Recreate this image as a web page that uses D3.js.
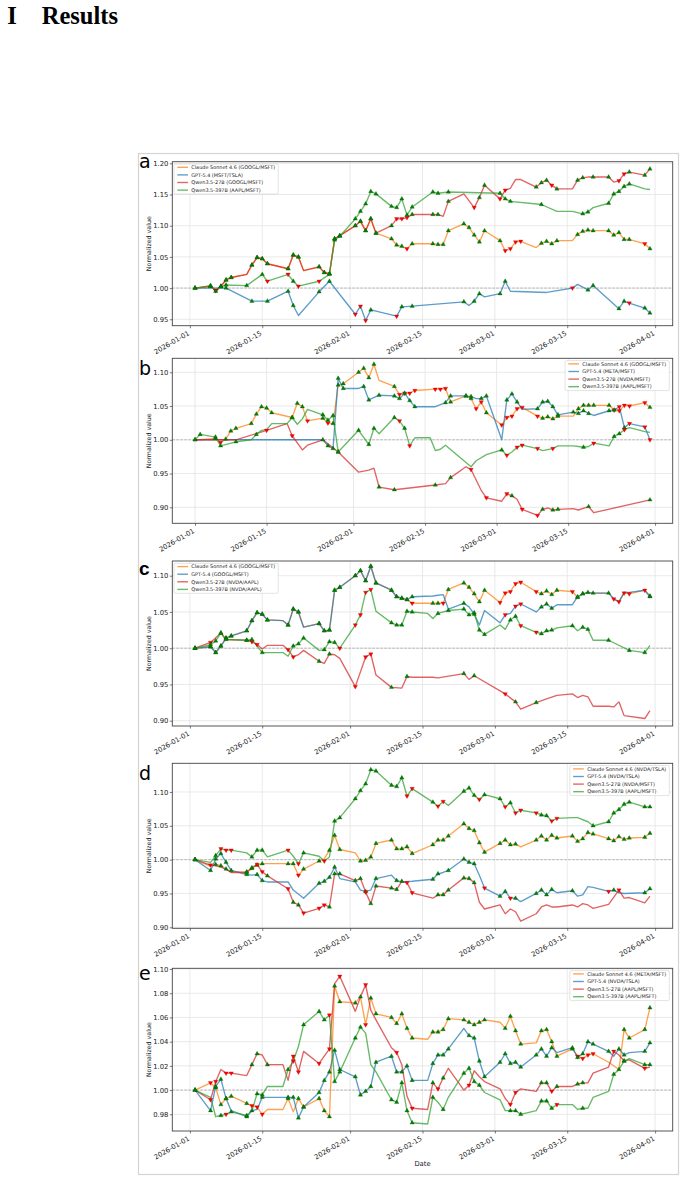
<!DOCTYPE html>
<html><head><meta charset="utf-8">
<script src="https://cdnjs.cloudflare.com/ajax/libs/d3/7.8.5/d3.min.js"></script>
<style>body{margin:0;background:#fff}svg{display:block}</style>
</head><body>
<svg id="c" width="686" height="1181"></svg>
<script>
// ---------- tick labels ----------
const xTickLabels = ["2026-01-01","2026-01-15","2026-02-01","2026-02-15","2026-03-01","2026-03-15","2026-04-01"];
const aTicks = [0.95,1.00,1.05,1.10,1.15,1.20];
const bTicks = [0.90,0.95,1.00,1.05,1.10];
const cTicks = [0.90,0.95,1.00,1.05,1.10];
const dTicks = [0.90,0.95,1.00,1.05,1.10];
const eTicks = [0.98,1.00,1.02,1.04,1.06,1.08,1.10];

// ---------- legend labels ----------
const aLegend = ["Claude Sonnet 4.6 (GOOGL/MSFT)","GPT-5.4 (MSFT/TSLA)","Qwen3.5-27B (GOOGL/MSFT)","Qwen3.5-397B (AAPL/MSFT)"];
const bLegend = ["Claude Sonnet 4.6 (GOOGL/MSFT)","GPT-5.4 (META/MSFT)","Qwen3.5-27B (NVDA/MSFT)","Qwen3.5-397B (AAPL/MSFT)"];
const cLegend = ["Claude Sonnet 4.6 (GOOGL/MSFT)","GPT-5.4 (GOOGL/MSFT)","Qwen3.5-27B (NVDA/AAPL)","Qwen3.5-397B (NVDA/AAPL)"];
const dLegend = ["Claude Sonnet 4.6 (NVDA/TSLA)","GPT-5.4 (NVDA/TSLA)","Qwen3.5-27B (NVDA/MSFT)","Qwen3.5-397B (AAPL/MSFT)"];
const eLegend = ["Claude Sonnet 4.6 (META/MSFT)","GPT-5.4 (NVDA/TSLA)","Qwen3.5-27B (AAPL/MSFT)","Qwen3.5-397B (AAPL/MSFT)"];

// ---------- series: [date (2026-MM-DD), normalized value, signal b=buy s=sell] ----------
const aClaude = [["01-02",1.000,"b"],["01-05",1.003,"b"],["01-06",0.996,"s"],["01-07",1.003,"b"],["01-08",1.013,"b"],["01-09",1.017,"b"],["01-12",1.022,""],["01-13",1.037,"b"],["01-14",1.049,"b"],["01-15",1.047,"b"],["01-16",1.039,"b"],["01-20",1.031,"b"],["01-21",1.053,"b"],["01-22",1.050,"b"],["01-23",1.028,""],["01-26",1.034,"b"],["01-27",1.025,"b"],["01-28",1.023,"b"],["01-29",1.079,"b"],["01-30",1.084,"b"],["02-02",1.100,"b"],["02-03",1.107,"b"],["02-04",1.092,"b"],["02-05",1.111,"b"],["02-06",1.088,"b"],["02-09",1.079,"b"],["02-10",1.069,"b"],["02-11",1.067,"b"],["02-12",1.063,"s"],["02-13",1.071,"b"],["02-17",1.071,"b"],["02-18",1.070,"b"],["02-19",1.070,"b"],["02-20",1.092,"b"],["02-23",1.103,"b"],["02-24",1.097,"b"],["02-25",1.085,"b"],["02-26",1.074,"b"],["02-27",1.092,"b"],["03-02",1.076,"b"],["03-03",1.060,"s"],["03-04",1.063,"s"],["03-05",1.074,"s"],["03-06",1.075,"s"],["03-09",1.065,""],["03-10",1.072,"b"],["03-11",1.075,"b"],["03-12",1.071,"b"],["03-13",1.076,"b"],["03-16",1.076,""],["03-17",1.086,"b"],["03-18",1.091,"b"],["03-19",1.093,"b"],["03-20",1.092,"b"],["03-23",1.092,"b"],["03-24",1.085,"b"],["03-25",1.089,"b"],["03-26",1.078,"b"],["03-27",1.078,"b"],["03-30",1.071,"s"],["03-31",1.063,"b"]];
const aGPT = [["01-02",1.000,""],["01-08",1.000,"b"],["01-13",0.979,"b"],["01-16",0.979,"b"],["01-20",0.995,"b"],["01-21",0.972,"b"],["01-22",0.956,""],["01-26",0.994,"b"],["01-28",1.011,"b"],["02-02",0.958,"s"],["02-03",0.971,"s"],["02-04",0.948,"s"],["02-05",0.965,"b"],["02-10",0.955,"s"],["02-11",0.970,"b"],["02-13",0.971,"b"],["02-23",0.978,"b"],["02-24",0.972,""],["02-25",0.979,"b"],["02-26",0.991,"b"],["02-27",0.986,""],["03-02",0.991,"b"],["03-03",1.011,"b"],["03-04",0.995,""],["03-11",0.993,""],["03-16",1.000,"s"],["03-17",1.006,""],["03-19",0.997,"b"],["03-20",1.004,"b"],["03-25",0.967,"b"],["03-26",0.979,"b"],["03-27",0.976,"s"],["03-30",0.968,"b"],["03-31",0.960,"b"]];
const aQwen27 = [["01-02",1.000,"b"],["01-05",1.003,"b"],["01-06",0.996,"s"],["01-07",1.003,"b"],["01-08",1.013,"b"],["01-09",1.017,"b"],["01-12",1.022,""],["01-13",1.037,"b"],["01-14",1.049,"b"],["01-15",1.047,"b"],["01-16",1.039,"b"],["01-20",1.031,"b"],["01-21",1.053,"b"],["01-22",1.050,"b"],["01-23",1.028,""],["01-26",1.034,"b"],["01-27",1.025,"b"],["01-28",1.023,"b"],["01-29",1.079,"b"],["01-30",1.084,"b"],["02-02",1.100,"b"],["02-03",1.107,"b"],["02-04",1.092,"b"],["02-05",1.111,"b"],["02-06",1.088,"b"],["02-09",1.100,"b"],["02-10",1.111,"s"],["02-11",1.111,"s"],["02-12",1.113,"s"],["02-13",1.118,"b"],["02-17",1.118,"b"],["02-18",1.118,"b"],["02-19",1.115,""],["02-20",1.139,"b"],["02-23",1.151,""],["02-25",1.129,"s"],["02-26",1.145,"b"],["02-27",1.165,"b"],["03-02",1.143,"s"],["03-03",1.157,"s"],["03-04",1.160,""],["03-05",1.174,""],["03-06",1.174,""],["03-09",1.162,"b"],["03-10",1.169,"b"],["03-11",1.173,"b"],["03-12",1.165,"s"],["03-13",1.159,"b"],["03-16",1.159,""],["03-17",1.173,"b"],["03-18",1.177,"b"],["03-19",1.178,""],["03-20",1.178,"b"],["03-23",1.178,"b"],["03-24",1.170,""],["03-25",1.172,"s"],["03-26",1.183,"s"],["03-27",1.186,"b"],["03-30",1.181,"b"],["03-31",1.191,"b"]];
const aQwen397 = [["01-02",1.000,"b"],["01-05",1.004,"b"],["01-06",0.995,"b"],["01-07",1.002,"b"],["01-08",1.005,"b"],["01-12",1.004,"b"],["01-15",1.022,"b"],["01-16",1.011,"s"],["01-20",1.022,"s"],["01-21",1.011,"b"],["01-22",1.003,"s"],["01-26",1.011,"s"],["01-28",1.022,"b"],["01-29",1.077,"b"],["01-30",1.083,"b"],["02-02",1.111,"b"],["02-03",1.123,"b"],["02-04",1.135,"b"],["02-05",1.155,"b"],["02-06",1.151,"b"],["02-09",1.131,"b"],["02-10",1.129,"b"],["02-11",1.143,"b"],["02-12",1.117,"b"],["02-13",1.130,"b"],["02-17",1.154,"b"],["02-18",1.152,"b"],["02-20",1.154,"b"],["03-02",1.152,"b"],["03-03",1.143,"b"],["03-04",1.139,"b"],["03-10",1.134,"b"],["03-13",1.123,""],["03-16",1.123,""],["03-18",1.119,"b"],["03-19",1.122,"b"],["03-20",1.129,""],["03-23",1.136,"b"],["03-24",1.151,"b"],["03-25",1.155,"b"],["03-26",1.163,"b"],["03-27",1.167,"b"],["03-30",1.159,""],["03-31",1.158,""]];

const bClaude = [["01-01",1.000,"b"],["01-02",1.000,""],["01-05",1.002,"b"],["01-06",0.996,"s"],["01-07",1.001,"b"],["01-08",1.013,"b"],["01-09",1.017,"b"],["01-12",1.024,"b"],["01-13",1.038,"b"],["01-14",1.049,"b"],["01-15",1.047,"b"],["01-16",1.040,"b"],["01-20",1.033,"b"],["01-21",1.054,"b"],["01-22",1.049,"b"],["01-23",1.028,"s"],["01-26",1.032,"b"],["01-27",1.025,"s"],["01-28",1.024,"b"],["01-29",1.081,"b"],["01-30",1.083,"b"],["02-02",1.100,"b"],["02-03",1.106,"b"],["02-04",1.092,"b"],["02-05",1.112,"b"],["02-06",1.088,""],["02-09",1.079,"b"],["02-10",1.067,"s"],["02-11",1.069,"s"],["02-12",1.069,"s"],["02-13",1.073,"s"],["02-17",1.075,"s"],["02-18",1.075,"s"],["02-19",1.076,"s"],["02-20",1.056,"b"],["02-23",1.065,"b"],["02-24",1.061,"b"],["02-25",1.046,"s"],["02-26",1.056,"s"],["02-27",1.040,"b"],["03-02",1.022,"s"],["03-03",1.033,"s"],["03-04",1.035,"s"],["03-05",1.046,"s"],["03-06",1.048,"s"],["03-09",1.035,"s"],["03-10",1.032,"b"],["03-11",1.034,"b"],["03-12",1.031,"b"],["03-13",1.035,"b"],["03-16",1.035,""],["03-17",1.046,"b"],["03-18",1.051,"b"],["03-19",1.051,"b"],["03-20",1.051,"b"],["03-23",1.051,"b"],["03-24",1.044,"s"],["03-25",1.043,"s"],["03-26",1.051,"s"],["03-27",1.050,"s"],["03-30",1.055,"s"],["03-31",1.048,"b"]];
const bGPT = [["01-01",1.000,""],["01-26",1.000,"b"],["01-27",0.991,"b"],["01-28",0.987,"b"],["01-29",1.091,"b"],["01-30",1.076,"b"],["02-02",1.076,""],["02-03",1.079,"b"],["02-04",1.059,"b"],["02-06",1.066,"b"],["02-09",1.065,"b"],["02-10",1.061,"b"],["02-11",1.069,"b"],["02-12",1.058,"b"],["02-13",1.049,"b"],["02-17",1.049,""],["02-19",1.055,"b"],["02-20",1.065,"b"],["02-23",1.065,"b"],["02-24",1.064,"b"],["02-25",1.061,""],["02-26",1.061,"b"],["02-27",1.065,"b"],["03-02",1.000,""],["03-03",1.059,"b"],["03-04",1.068,"b"],["03-05",1.056,"b"],["03-06",1.045,""],["03-09",1.046,"b"],["03-10",1.056,"b"],["03-11",1.057,"b"],["03-12",1.049,"b"],["03-13",1.037,"b"],["03-16",1.041,"b"],["03-17",1.039,"b"],["03-18",1.043,"b"],["03-19",1.039,"b"],["03-20",1.036,""],["03-23",1.043,"b"],["03-24",1.044,"b"],["03-25",1.049,"s"],["03-26",1.018,"b"],["03-27",1.024,"s"],["03-30",1.019,"s"],["03-31",1.000,"s"]];
const bQwen27 = [["01-01",1.000,""],["01-09",1.000,""],["01-15",1.014,"s"],["01-19",1.024,""],["01-20",1.006,"s"],["01-22",0.985,""],["01-23",0.992,""],["01-26",1.000,""],["01-28",0.988,""],["01-29",0.982,"b"],["02-02",0.952,""],["02-04",0.955,""],["02-05",0.958,""],["02-06",0.930,"b"],["02-09",0.926,"b"],["02-17",0.933,"b"],["02-19",0.935,""],["02-20",0.944,"b"],["02-23",0.960,""],["02-24",0.956,"s"],["02-26",0.925,""],["02-27",0.914,"s"],["03-02",0.909,""],["03-03",0.920,"s"],["03-04",0.917,"b"],["03-05",0.912,""],["03-06",0.897,"s"],["03-09",0.888,"s"],["03-10",0.897,"b"],["03-11",0.899,""],["03-12",0.896,"b"],["03-13",0.897,"b"],["03-16",0.898,""],["03-17",0.896,""],["03-19",0.901,"b"],["03-20",0.892,""],["03-31",0.911,"b"]];
const bQwen397 = [["01-01",1.000,"b"],["01-02",1.008,"b"],["01-05",1.004,"b"],["01-06",0.991,"b"],["01-09",0.997,"b"],["01-12",1.000,""],["01-13",1.008,"b"],["01-14",1.014,""],["01-15",1.015,""],["01-16",1.024,""],["01-19",1.024,""],["01-20",1.033,"b"],["01-21",1.023,""],["01-22",1.031,""],["01-23",1.045,""],["01-26",1.037,"b"],["01-27",1.029,"b"],["01-28",1.036,"b"],["01-29",0.982,"b"],["02-02",1.014,"b"],["02-04",0.993,"b"],["02-05",1.017,"b"],["02-06",1.009,""],["02-09",1.033,"b"],["02-10",1.028,"s"],["02-11",1.017,"b"],["02-12",0.991,"s"],["02-13",1.003,""],["02-16",1.003,""],["02-17",0.984,""],["02-18",0.986,""],["02-19",0.992,""],["02-24",0.960,""],["02-25",0.969,""],["02-27",0.978,""],["03-02",0.985,"b"],["03-03",0.977,"s"],["03-04",0.982,""],["03-05",0.989,"s"],["03-06",0.992,"s"],["03-09",0.987,"s"],["03-10",0.984,""],["03-12",0.987,"s"],["03-13",0.991,""],["03-16",0.991,""],["03-17",0.990,""],["03-18",0.989,"b"],["03-19",0.990,""],["03-20",0.995,"s"],["03-23",0.991,""],["03-24",1.005,"b"],["03-25",1.009,"b"],["03-26",1.015,"s"],["03-27",1.018,""],["03-30",1.012,""],["03-31",1.011,""]];

const cClaude = [["01-02",1.000,"b"],["01-05",1.002,"b"],["01-06",0.994,"b"],["01-07",1.003,"b"],["01-08",1.014,"b"],["01-09",1.017,"b"],["01-12",1.024,"b"],["01-13",1.038,"b"],["01-14",1.049,"b"],["01-15",1.047,"b"],["01-16",1.039,"b"],["01-19",1.038,""],["01-20",1.032,"b"],["01-21",1.054,"b"],["01-22",1.050,"b"],["01-23",1.029,""],["01-26",1.034,"b"],["01-27",1.024,"b"],["01-28",1.025,"b"],["01-29",1.080,"b"],["01-30",1.084,"b"],["02-02",1.100,"b"],["02-03",1.107,"b"],["02-04",1.093,"b"],["02-05",1.113,"b"],["02-06",1.090,"b"],["02-09",1.080,"b"],["02-10",1.071,"b"],["02-11",1.069,"b"],["02-12",1.067,"b"],["02-13",1.062,"s"],["02-17",1.062,"b"],["02-18",1.062,"b"],["02-19",1.062,"s"],["02-20",1.081,"b"],["02-23",1.090,"b"],["02-24",1.084,"b"],["02-25",1.075,"b"],["02-26",1.064,"b"],["02-27",1.080,"b"],["03-02",1.063,"s"],["03-03",1.076,"s"],["03-04",1.078,"s"],["03-05",1.089,"s"],["03-06",1.091,"s"],["03-09",1.078,"s"],["03-10",1.075,"b"],["03-11",1.079,"b"],["03-12",1.074,"b"],["03-13",1.080,"b"],["03-16",1.078,"s"],["03-17",1.070,"b"],["03-18",1.075,"b"],["03-19",1.077,"b"],["03-20",1.076,"b"],["03-23",1.076,"b"],["03-24",1.068,"s"],["03-25",1.064,"s"],["03-26",1.076,"s"],["03-27",1.075,"s"],["03-30",1.080,"s"],["03-31",1.072,"b"]];
const cGPT = [["01-02",1.000,"b"],["01-05",1.002,"b"],["01-06",0.994,"b"],["01-07",1.003,"b"],["01-08",1.014,"b"],["01-09",1.017,"b"],["01-12",1.024,"b"],["01-13",1.038,"b"],["01-14",1.049,"b"],["01-15",1.047,"b"],["01-16",1.039,"b"],["01-19",1.038,""],["01-20",1.032,"b"],["01-21",1.054,"b"],["01-22",1.050,"b"],["01-23",1.029,""],["01-26",1.034,"b"],["01-27",1.024,"b"],["01-28",1.025,"b"],["01-29",1.080,"b"],["01-30",1.084,"b"],["02-02",1.100,"b"],["02-03",1.107,"b"],["02-04",1.093,"b"],["02-05",1.113,"b"],["02-06",1.090,"b"],["02-09",1.080,"b"],["02-10",1.071,"b"],["02-11",1.069,"b"],["02-12",1.067,"b"],["02-13",1.071,"b"],["02-17",1.072,""],["02-18",1.073,""],["02-19",1.074,""],["02-20",1.054,""],["02-23",1.062,"b"],["02-24",1.057,""],["02-25",1.047,"b"],["02-26",1.032,""],["02-27",1.052,""],["03-02",1.035,""],["03-03",1.046,"s"],["03-04",1.048,""],["03-05",1.058,"s"],["03-06",1.061,"s"],["03-09",1.050,""],["03-10",1.057,"b"],["03-11",1.061,"b"],["03-12",1.055,"b"],["03-13",1.060,""],["03-16",1.060,""],["03-17",1.071,"b"],["03-18",1.075,"b"],["03-19",1.077,""],["03-20",1.076,""],["03-23",1.076,""],["03-24",1.068,""],["03-25",1.064,""],["03-26",1.077,""],["03-27",1.077,""],["03-30",1.080,""],["03-31",1.071,"b"]];
const cQwen27 = [["01-02",1.000,"b"],["01-05",1.008,"s"],["01-07",1.021,"b"],["01-08",1.012,""],["01-12",1.011,"b"],["01-13",1.009,"s"],["01-14",1.005,"s"],["01-15",0.999,""],["01-16",1.004,""],["01-19",1.004,""],["01-20",0.998,"s"],["01-21",0.988,"s"],["01-22",0.991,""],["01-23",0.997,""],["01-26",0.982,"b"],["01-27",0.979,""],["01-28",0.992,"b"],["01-29",0.991,""],["01-30",0.986,""],["02-02",0.947,"s"],["02-04",0.988,"s"],["02-05",0.992,"s"],["02-06",0.963,""],["02-09",0.946,"b"],["02-11",0.945,""],["02-12",0.961,"b"],["02-13",0.960,""],["02-17",0.960,""],["02-18",0.959,""],["02-23",0.965,"b"],["02-24",0.957,""],["02-25",0.962,"b"],["03-03",0.937,"s"],["03-05",0.926,"b"],["03-06",0.916,""],["03-09",0.925,"b"],["03-11",0.930,""],["03-13",0.935,""],["03-16",0.937,""],["03-17",0.932,""],["03-18",0.935,""],["03-19",0.933,""],["03-20",0.920,""],["03-23",0.920,""],["03-24",0.919,""],["03-25",0.926,""],["03-26",0.907,""],["03-30",0.903,""],["03-31",0.914,""]];
const cQwen397 = [["01-02",1.000,"b"],["01-05",1.005,"b"],["01-06",1.010,"b"],["01-07",1.021,"b"],["01-08",1.012,"b"],["01-12",1.011,"b"],["01-13",1.012,"b"],["01-15",0.994,"b"],["01-16",0.994,""],["01-19",0.994,""],["01-20",0.989,""],["01-21",1.003,"b"],["01-22",1.006,"b"],["01-23",1.014,"b"],["01-26",0.997,""],["01-27",0.998,"b"],["01-28",1.009,"b"],["01-29",1.008,"b"],["01-30",1.000,"s"],["02-02",1.032,"s"],["02-03",1.046,"s"],["02-04",1.077,"s"],["02-05",1.081,"s"],["02-06",1.051,""],["02-09",1.035,"b"],["02-10",1.032,"b"],["02-11",1.032,"b"],["02-12",1.051,"b"],["02-13",1.050,"b"],["02-16",1.048,""],["02-17",1.041,""],["02-18",1.048,"b"],["02-20",1.052,"b"],["02-23",1.054,"b"],["02-24",1.046,"b"],["02-25",1.049,"b"],["02-26",1.025,"b"],["02-27",1.019,"b"],["03-02",1.032,""],["03-03",1.026,""],["03-04",1.039,"b"],["03-05",1.044,"b"],["03-06",1.031,"s"],["03-09",1.022,"s"],["03-10",1.020,"b"],["03-11",1.024,"b"],["03-12",1.025,"b"],["03-13",1.028,""],["03-16",1.031,"b"],["03-17",1.024,""],["03-18",1.029,"b"],["03-19",1.026,"b"],["03-20",1.011,""],["03-23",1.011,"b"],["03-27",0.997,"b"],["03-30",0.994,"b"],["03-31",1.004,""]];

const dClaude = [["01-02",1.000,"b"],["01-05",0.990,""],["01-06",0.993,"b"],["01-07",0.991,"b"],["01-08",0.986,"b"],["01-09",0.982,""],["01-12",0.982,"b"],["01-13",0.987,"b"],["01-14",0.992,"b"],["01-15",0.994,"b"],["01-16",0.994,""],["01-20",0.994,"b"],["01-21",0.994,"b"],["01-22",0.977,"s"],["01-23",0.986,"b"],["01-26",0.998,"b"],["01-27",1.001,""],["01-28",1.014,"b"],["01-29",1.036,"b"],["01-30",1.015,"b"],["02-02",1.010,""],["02-03",0.998,"b"],["02-04",0.999,"b"],["02-05",1.004,"b"],["02-06",1.024,"b"],["02-09",1.029,"b"],["02-10",1.016,"b"],["02-11",1.016,"b"],["02-12",1.019,"b"],["02-13",1.009,"b"],["02-17",1.022,"b"],["02-18",1.029,"b"],["02-19",1.029,"b"],["02-20",1.035,"b"],["02-23",1.053,"b"],["02-24",1.046,"b"],["02-25",1.043,"b"],["02-26",1.025,"b"],["02-27",1.011,"b"],["03-02",1.024,"b"],["03-03",1.029,"b"],["03-04",1.022,"b"],["03-05",1.023,"b"],["03-06",1.019,""],["03-09",1.029,"b"],["03-10",1.035,"b"],["03-11",1.029,"b"],["03-12",1.036,"b"],["03-13",1.032,"b"],["03-16",1.035,"b"],["03-17",1.027,"b"],["03-18",1.031,"b"],["03-19",1.040,"b"],["03-20",1.038,"b"],["03-23",1.031,"b"],["03-24",1.028,"b"],["03-25",1.034,"b"],["03-26",1.030,"b"],["03-27",1.032,"b"],["03-30",1.033,"b"],["03-31",1.039,"b"]];
const dGPT = [["01-02",1.000,"b"],["01-05",0.984,"b"],["01-06",1.001,"b"],["01-07",1.009,"b"],["01-08",0.996,"b"],["01-09",0.984,"b"],["01-12",0.978,"b"],["01-13",0.977,""],["01-14",0.978,"b"],["01-15",0.969,"b"],["01-16",0.967,""],["01-20",0.967,""],["01-21",0.955,""],["01-23",0.943,""],["01-26",0.965,"b"],["01-27",0.968,"b"],["01-28",0.974,"b"],["01-29",0.989,"b"],["01-30",0.972,""],["02-02",0.967,""],["02-03",0.955,""],["02-04",0.953,"b"],["02-05",0.955,""],["02-06",0.972,"b"],["02-09",0.977,""],["02-10",0.969,"b"],["02-11",0.967,""],["02-13",0.968,""],["02-17",0.971,"b"],["02-18",0.979,"b"],["02-19",0.981,""],["02-20",0.984,"b"],["02-23",1.001,"b"],["02-24",0.996,"b"],["02-25",0.994,"b"],["02-26",0.977,""],["02-27",0.958,"s"],["03-02",0.946,"b"],["03-03",0.953,"b"],["03-04",0.943,"s"],["03-05",0.943,"b"],["03-06",0.938,""],["03-09",0.950,"b"],["03-10",0.955,"b"],["03-11",0.948,"b"],["03-12",0.956,"b"],["03-13",0.951,""],["03-16",0.954,"b"],["03-17",0.946,""],["03-18",0.948,""],["03-19",0.960,""],["03-20",0.959,""],["03-23",0.953,"s"],["03-24",0.955,"b"],["03-25",0.951,""],["03-26",0.950,""],["03-30",0.951,"b"],["03-31",0.957,"b"]];
const dQwen27 = [["01-02",1.000,"b"],["01-05",0.992,"s"],["01-06",0.991,""],["01-07",0.989,""],["01-08",0.986,""],["01-09",0.981,""],["01-12",0.981,"b"],["01-13",0.988,"b"],["01-14",0.993,"s"],["01-15",0.982,"s"],["01-16",0.976,"b"],["01-20",0.957,"s"],["01-21",0.937,"b"],["01-22",0.933,"b"],["01-23",0.921,"s"],["01-26",0.928,"s"],["01-27",0.933,"s"],["01-28",0.930,"b"],["01-29",0.979,"b"],["01-30",0.979,"b"],["02-02",0.969,"b"],["02-03",0.972,"b"],["02-04",0.952,"s"],["02-05",0.935,"b"],["02-06",0.961,"b"],["02-09",0.958,"b"],["02-10",0.956,"b"],["02-11",0.968,"b"],["02-12",0.966,"s"],["02-13",0.951,"s"],["02-17",0.943,""],["02-18",0.948,"b"],["02-19",0.948,"b"],["02-20",0.955,"b"],["02-23",0.973,"b"],["02-24",0.972,"b"],["02-25",0.966,"b"],["02-26",0.937,""],["02-27",0.927,""],["03-02",0.933,""],["03-03",0.920,""],["03-04",0.927,""],["03-05",0.923,""],["03-06",0.909,""],["03-09",0.920,""],["03-10",0.930,""],["03-11",0.933,""],["03-12",0.930,""],["03-13",0.930,""],["03-16",0.933,""],["03-17",0.930,""],["03-18",0.935,""],["03-19",0.933,""],["03-20",0.928,""],["03-23",0.934,""],["03-25",0.955,"s"],["03-26",0.943,""],["03-27",0.944,""],["03-30",0.936,""],["03-31",0.946,""]];
const dQwen397 = [["01-02",1.000,"b"],["01-05",0.996,""],["01-06",1.006,"b"],["01-07",1.016,"s"],["01-08",1.014,"s"],["01-09",1.014,"s"],["01-12",1.010,""],["01-13",1.004,"b"],["01-14",1.014,"b"],["01-15",1.014,"b"],["01-16",1.004,""],["01-20",1.014,"s"],["01-21",1.005,""],["01-22",0.994,"s"],["01-23",1.010,"b"],["01-26",1.005,""],["01-27",0.998,"s"],["01-28",1.004,""],["01-29",1.057,"b"],["01-30",1.062,"b"],["02-02",1.090,"b"],["02-03",1.102,"b"],["02-04",1.112,"b"],["02-05",1.133,"b"],["02-06",1.131,"b"],["02-09",1.110,"b"],["02-10",1.108,"b"],["02-11",1.121,"b"],["02-12",1.094,"s"],["02-13",1.105,"s"],["02-17",1.085,"b"],["02-18",1.079,"s"],["02-19",1.086,"s"],["02-20",1.080,""],["02-23",1.101,"b"],["02-24",1.106,"b"],["02-25",1.095,"b"],["02-26",1.089,"s"],["02-27",1.096,"b"],["03-02",1.090,"b"],["03-03",1.078,"s"],["03-04",1.084,"b"],["03-05",1.069,"s"],["03-06",1.073,"s"],["03-09",1.069,"s"],["03-10",1.066,"b"],["03-11",1.065,"b"],["03-12",1.057,"s"],["03-13",1.061,"s"],["03-16",1.062,""],["03-17",1.062,""],["03-19",1.056,""],["03-20",1.050,"b"],["03-23",1.056,"b"],["03-24",1.069,"b"],["03-25",1.074,"b"],["03-26",1.082,"b"],["03-27",1.085,"b"],["03-30",1.078,"b"],["03-31",1.078,"b"]];

const eClaude = [["01-02",1.000,"b"],["01-05",1.006,"s"],["01-06",1.002,"b"],["01-07",0.988,"b"],["01-08",0.993,"b"],["01-09",0.995,"b"],["01-12",0.989,"b"],["01-13",0.987,"s"],["01-14",0.986,"s"],["01-15",0.980,"s"],["01-16",0.984,""],["01-19",0.984,""],["01-20",0.993,"b"],["01-21",0.982,""],["01-22",0.993,"b"],["01-23",0.986,"b"],["01-26",0.993,"b"],["01-27",0.983,"b"],["01-28",0.978,"b"],["01-29",1.086,"b"],["01-30",1.073,"b"],["02-02",1.072,"b"],["02-03",1.077,"b"],["02-04",1.054,"s"],["02-05",1.076,"b"],["02-06",1.063,"b"],["02-09",1.060,"b"],["02-10",1.055,"b"],["02-11",1.063,"b"],["02-12",1.051,"b"],["02-13",1.043,"b"],["02-16",1.042,""],["02-17",1.048,"b"],["02-18",1.048,"b"],["02-19",1.050,"b"],["02-20",1.059,"b"],["02-23",1.058,"b"],["02-24",1.056,"b"],["02-25",1.054,"b"],["02-26",1.056,"b"],["02-27",1.058,"b"],["03-02",1.056,""],["03-03",1.051,"b"],["03-04",1.061,"b"],["03-05",1.049,"b"],["03-06",1.038,"b"],["03-09",1.039,""],["03-10",1.049,"b"],["03-11",1.050,"b"],["03-12",1.040,"b"],["03-13",1.028,"b"],["03-16",1.034,"b"],["03-17",1.028,"s"],["03-18",1.026,"s"],["03-19",1.029,"s"],["03-20",1.030,"s"],["03-23",1.023,""],["03-25",1.017,""],["03-26",1.050,"b"],["03-27",1.043,"b"],["03-30",1.050,"b"],["03-31",1.068,"b"]];
const eGPT = [["01-02",1.000,""],["01-05",0.983,"b"],["01-06",1.003,"b"],["01-07",1.009,"b"],["01-08",0.993,"b"],["01-09",0.983,""],["01-12",0.978,"b"],["01-13",0.983,""],["01-14",0.984,""],["01-15",0.994,"b"],["01-16",0.994,""],["01-20",0.994,"b"],["01-21",0.994,"b"],["01-22",0.977,"b"],["01-23",0.986,"b"],["01-26",0.998,"b"],["01-27",1.008,"b"],["01-28",1.015,"b"],["01-29",1.033,"b"],["01-30",1.017,"b"],["02-02",1.011,"b"],["02-03",0.996,"b"],["02-04",0.999,"b"],["02-05",1.003,"b"],["02-06",1.023,"b"],["02-09",1.028,"b"],["02-10",1.015,"b"],["02-11",1.015,"b"],["02-12",1.020,"b"],["02-13",1.008,"b"],["02-16",1.008,""],["02-17",1.022,"b"],["02-18",1.029,"b"],["02-19",1.029,"b"],["02-20",1.034,"b"],["02-23",1.051,""],["02-24",1.045,"b"],["02-25",1.043,"b"],["02-26",1.024,"b"],["02-27",1.011,"b"],["03-02",1.023,"b"],["03-03",1.030,"b"],["03-04",1.022,"b"],["03-05",1.023,"b"],["03-06",1.019,"b"],["03-09",1.029,"b"],["03-10",1.034,"b"],["03-11",1.028,"b"],["03-12",1.035,"b"],["03-13",1.031,""],["03-16",1.035,"b"],["03-17",1.027,"b"],["03-18",1.030,"b"],["03-19",1.040,"b"],["03-20",1.038,"b"],["03-23",1.032,"b"],["03-24",1.028,""],["03-25",1.034,"b"],["03-26",1.029,"b"],["03-27",1.031,""],["03-30",1.032,"b"],["03-31",1.039,"b"]];
const eQwen27 = [["01-02",1.000,"b"],["01-05",0.992,"s"],["01-06",1.007,"s"],["01-07",1.017,""],["01-08",1.014,"s"],["01-09",1.014,"s"],["01-12",1.012,""],["01-13",1.021,"b"],["01-14",1.030,"b"],["01-15",1.029,""],["01-16",1.021,"b"],["01-19",1.021,""],["01-20",1.008,""],["01-21",1.028,"s"],["01-22",1.015,"s"],["01-23",1.032,""],["01-26",1.022,"s"],["01-27",1.028,""],["01-28",1.034,"s"],["01-29",1.088,""],["01-30",1.094,"s"],["02-02",1.065,""],["02-03",1.077,""],["02-04",1.087,"s"],["02-05",1.066,""],["02-06",1.058,""],["02-09",1.035,""],["02-10",1.031,"s"],["02-11",1.021,""],["02-12",0.995,""],["02-13",0.985,"s"],["02-16",0.984,""],["02-17",1.006,"b"],["02-18",1.001,"s"],["02-19",1.010,"b"],["02-20",1.018,""],["02-23",1.000,""],["02-24",1.004,"s"],["02-25",1.016,""],["02-26",1.011,""],["02-27",1.007,""],["03-02",1.001,""],["03-03",0.993,""],["03-04",0.988,"s"],["03-05",0.998,"s"],["03-06",1.001,""],["03-09",0.999,""],["03-10",1.006,"b"],["03-11",1.006,"b"],["03-12",0.999,"s"],["03-13",1.003,"b"],["03-16",1.003,""],["03-17",1.005,"b"],["03-18",1.006,"b"],["03-19",1.006,""],["03-20",1.014,""],["03-23",1.019,""],["03-24",1.032,"s"],["03-25",1.029,""],["03-26",1.024,"b"],["03-27",1.025,""],["03-30",1.018,"s"],["03-31",1.019,""]];
const eQwen397 = [["01-02",1.000,"b"],["01-05",0.994,""],["01-06",0.978,""],["01-07",0.979,"b"],["01-08",0.980,"s"],["01-09",0.982,"b"],["01-12",0.979,"b"],["01-13",0.983,"b"],["01-14",0.997,"b"],["01-15",0.996,"b"],["01-16",1.003,""],["01-19",1.003,""],["01-20",1.017,"b"],["01-21",1.024,"s"],["01-22",1.036,""],["01-23",1.054,"b"],["01-26",1.065,"b"],["01-27",1.058,"b"],["01-28",1.062,"s"],["01-29",1.007,"b"],["01-30",1.015,"b"],["02-02",1.043,"b"],["02-03",1.052,"b"],["02-04",1.047,""],["02-05",1.021,""],["02-06",1.015,""],["02-09",0.992,"b"],["02-10",0.990,"b"],["02-11",1.006,"b"],["02-12",0.983,"b"],["02-13",0.973,"b"],["02-16",0.972,""],["02-17",0.994,"b"],["02-18",0.990,""],["02-19",0.984,"b"],["02-20",0.994,""],["02-23",1.014,"b"],["02-24",1.018,"b"],["02-25",1.007,"b"],["02-26",1.004,"b"],["02-27",0.998,""],["03-02",0.992,""],["03-03",0.983,""],["03-04",0.983,"b"],["03-05",0.983,"b"],["03-06",0.980,"b"],["03-09",0.983,""],["03-10",0.991,"b"],["03-11",0.991,"b"],["03-12",0.985,"b"],["03-13",0.988,"s"],["03-16",0.988,""],["03-17",0.984,""],["03-18",0.985,"b"],["03-19",0.985,""],["03-20",0.994,""],["03-23",0.999,""],["03-24",1.013,"b"],["03-25",1.017,"b"],["03-26",1.024,"b"],["03-27",1.026,""],["03-30",1.021,"b"],["03-31",1.021,"b"]];

// ---------- layout ----------
const colors = ["#ff7f0e","#1f77b4","#d62728","#2ca02c"];
const L = 172.3, R = 672.7;
const panels = [
  {letter:"a", top:161.7, bottom:325.7, yDom:[0.9397,1.2026], ticks:aTicks, legend:aLegend, series:[aClaude,aGPT,aQwen27,aQwen397], lpos:"ul", ly:168.3, bold:false},
  {letter:"b", top:358.3, bottom:523.3, yDom:[0.8763,1.1207], ticks:bTicks, legend:bLegend, series:[bClaude,bGPT,bQwen27,bQwen397], lpos:"ur", ly:375, bold:false},
  {letter:"c", top:561.0, bottom:726.0, yDom:[0.8927,1.1203], ticks:cTicks, legend:cLegend, series:[cClaude,cGPT,cQwen27,cQwen397], lpos:"ul", ly:574.5, bold:true},
  {letter:"d", top:763.3, bottom:928.3, yDom:[0.8985,1.1424], ticks:dTicks, legend:dLegend, series:[dClaude,dGPT,dQwen27,dQwen397], lpos:"ur", ly:780, bold:false},
  {letter:"e", top:968.3, bottom:1131.0, yDom:[0.9662,1.1006], ticks:eTicks, legend:eLegend, series:[eClaude,eGPT,eQwen27,eQwen397], lpos:"ur", ly:980, xlabel:true, bold:false}
];

const parse = d3.timeParse("%Y-%m-%d");
const fmt = d3.timeFormat("%Y-%m-%d");
const FONT = "DejaVu Sans, sans-serif";
const svg = d3.select("#c");

// heading
svg.append("text").attr("x",7.3).attr("y",23.5).attr("font-family","Liberation Serif, Times New Roman, serif")
  .attr("font-weight","bold").attr("font-size",24.5).attr("fill","#000").text("I");
svg.append("text").attr("x",41.7).attr("y",23.5).attr("font-family","Liberation Serif, Times New Roman, serif")
  .attr("font-weight","bold").attr("font-size",24.5).attr("fill","#000").text("Results");

// figure border
svg.append("rect").attr("x",138.5).attr("y",153.5).attr("width",540).attr("height",1021)
  .attr("fill","none").attr("stroke","#d4d4d4").attr("stroke-width",1.2);

const triUp = d3.symbol().type(d3.symbolTriangle).size(8)();
const triDown = d3.symbol().type(d3.symbolTriangle).size(8)();

panels.forEach(p => {
  const g = svg.append("g");
  const allDates = p.series.flatMap(s => s.map(d => parse("2026-" + d[0])));
  const ext = d3.extent(allDates);
  const span = ext[1] - ext[0];
  const x = d3.scaleTime().domain([new Date(+ext[0] - 0.05*span), new Date(+ext[1] + 0.05*span)]).range([L, R]);
  const y = d3.scaleLinear().domain(p.yDom).range([p.bottom, p.top]);
  const xTicks = xTickLabels.map(parse);

  // grid
  g.append("g").selectAll("line").data(xTicks).join("line")
    .attr("x1", d => x(d)).attr("x2", d => x(d)).attr("y1", p.top).attr("y2", p.bottom)
    .attr("stroke","#e3e3e3").attr("stroke-width",0.8);
  g.append("g").selectAll("line").data(p.ticks).join("line")
    .attr("x1", L).attr("x2", R).attr("y1", d => y(d)).attr("y2", d => y(d))
    .attr("stroke","#e3e3e3").attr("stroke-width",0.8);
  // baseline 1.0
  g.append("line").attr("x1",L).attr("x2",R).attr("y1",y(1)).attr("y2",y(1))
    .attr("stroke","#a8a8a8").attr("stroke-width",0.8).attr("stroke-dasharray","2.5,1.5");

  // lines
  const line = d3.line().x(d => x(parse("2026-" + d[0]))).y(d => y(d[1]));
  p.series.forEach((s, i) => {
    g.append("path").datum(s).attr("d", line).attr("fill","none")
      .attr("stroke", colors[i]).attr("stroke-opacity",0.72).attr("stroke-width",1.35)
      .attr("stroke-linejoin","round");
  });
  // markers
  p.series.forEach((s, i) => {
    g.append("g").selectAll("path").data(s.filter(d => d[2] === "b")).join("path")
      .attr("d", triUp).attr("transform", d => `translate(${x(parse("2026-" + d[0]))},${y(d[1])})`)
      .attr("fill","#008000").attr("stroke","#005500").attr("stroke-width",0.3);
    g.append("g").selectAll("path").data(s.filter(d => d[2] === "s")).join("path")
      .attr("d", triDown).attr("transform", d => `translate(${x(parse("2026-" + d[0]))},${y(d[1])}) rotate(180)`)
      .attr("fill","#ff0000").attr("stroke","#aa0000").attr("stroke-width",0.3);
  });

  // frame
  g.append("rect").attr("x",L).attr("y",p.top).attr("width",R-L).attr("height",p.bottom-p.top)
    .attr("fill","none").attr("stroke","#444").attr("stroke-width",0.9);

  // axes
  const ya = g.append("g").attr("transform",`translate(${L},0)`)
    .call(d3.axisLeft(y).tickValues(p.ticks).tickFormat(d3.format(".2f")).tickSize(2.5).tickPadding(1.5));
  ya.select(".domain").remove();
  ya.selectAll("line").attr("stroke","#444").attr("stroke-width",0.7);
  ya.selectAll("text").attr("font-family",FONT).attr("font-size",6.8).attr("fill","#222");

  const xa = g.append("g").attr("transform",`translate(0,${p.bottom})`)
    .call(d3.axisBottom(x).tickValues(xTicks).tickFormat(fmt).tickSize(2.5));
  xa.select(".domain").remove();
  xa.selectAll("line").attr("stroke","#444").attr("stroke-width",0.7);
  xa.selectAll("text").attr("font-family",FONT).attr("font-size",6.8).attr("fill","#222")
    .attr("x",0).attr("y",0).attr("dy","0.75em")
    .attr("transform","translate(-3,4.5) rotate(-30)").style("text-anchor","end");

  // y label
  g.append("text").attr("transform",`translate(150.5,${(p.top+p.bottom)/2}) rotate(-90)`)
    .attr("text-anchor","middle").attr("font-family",FONT).attr("font-size",6.3).attr("fill","#222")
    .text("Normalized value");

  if (p.xlabel) {
    g.append("text").attr("x",(L+R)/2).attr("y",1166).attr("text-anchor","middle")
      .attr("font-family",FONT).attr("font-size",6.8).attr("fill","#222").text("Date");
  }

  // panel letter
  g.append("text").attr("x",139).attr("y",p.ly).attr("font-family",p.bold ? "Liberation Sans, Arial, sans-serif" : FONT)
    .attr("font-weight",p.bold ? "bold" : "normal").attr("font-size",19)
    .attr("fill","#000").text(p.letter);

  // legend
  const lg = g.append("g");
  const box = lg.append("rect");
  const rows = p.legend.map((t, i) => {
    const yy = p.top + 5.6 + i * 7.6;
    const ln = lg.append("line").attr("y1",yy).attr("y2",yy).attr("stroke",colors[i])
      .attr("stroke-opacity",0.72).attr("stroke-width",1.35);
    const tx = lg.append("text").attr("y",yy).attr("dy","0.35em").attr("font-family",FONT)
      .attr("font-size",4.95).attr("fill","#222").text(t);
    return {ln, tx};
  });
  const tw = d3.max(rows, r => r.tx.node().getComputedTextLength());
  const w = 17.3 + tw + 3;
  const x0 = p.lpos === "ul" ? L + 1.7 : R - 3.4 - w;
  rows.forEach(r => {
    r.ln.attr("x1", x0 + 3.3).attr("x2", x0 + 14);
    r.tx.attr("x", x0 + 17.3);
  });
  box.attr("x",x0).attr("y",p.top + 2.3).attr("width",w).attr("height",30).attr("rx",1.5)
    .attr("fill","#fff").attr("fill-opacity",0.85).attr("stroke","#d0d0d0").attr("stroke-width",0.6);
});
</script>
</body></html>
